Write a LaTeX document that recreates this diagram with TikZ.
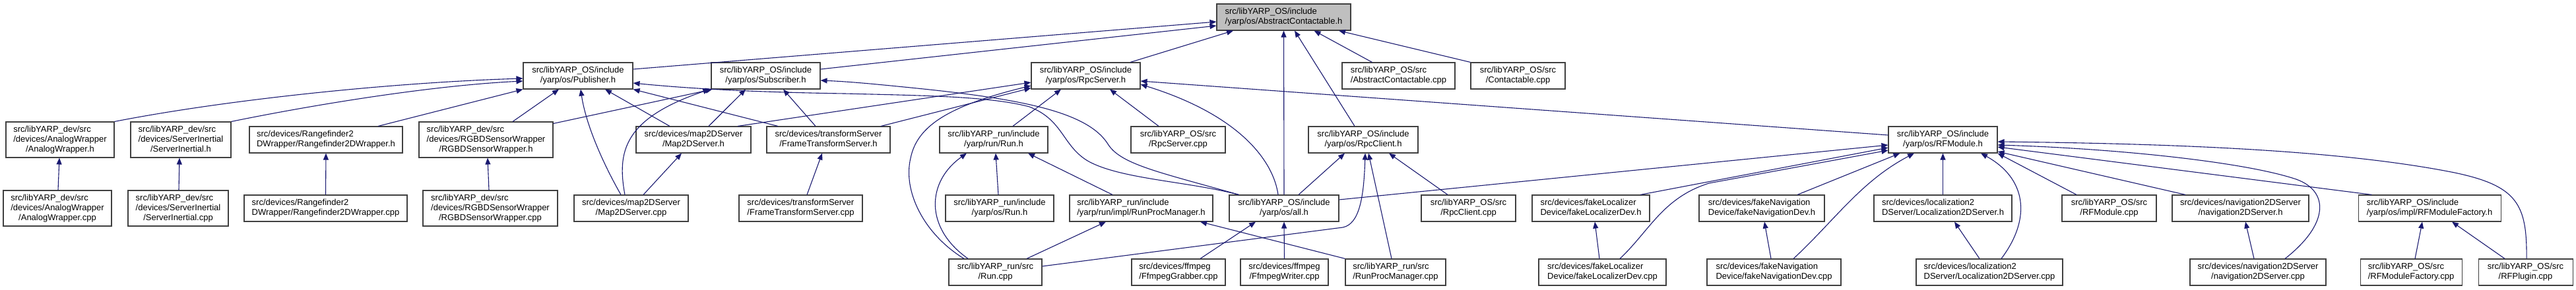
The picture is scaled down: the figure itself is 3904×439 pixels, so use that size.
\documentclass[tikz,border=0pt]{standalone}
\usepackage{fontspec}
\setmainfont{Liberation Sans}
\usetikzlibrary{calc,arrows.meta}
\definecolor{edgeblue}{RGB}{25,25,112}
\definecolor{boxgray}{RGB}{191,191,191}
\definecolor{boxline}{RGB}{64,64,64}
\newcommand{\twol}[2]{\begin{tabular}{@{}l@{}}#1\\\multicolumn{1}{@{}c@{}}{#2}\end{tabular}}
\newcommand{\threel}[3]{\begin{tabular}{@{}l@{}}#1\\#2\\\multicolumn{1}{@{}c@{}}{#3}\end{tabular}}
\tikzset{
  box/.style={draw=boxline, line width=1.1pt, fill=white, inner sep=0pt, rectangle,
    font=\fontsize{13}{15}\selectfont, minimum height=40pt},
  tall/.style={minimum height=54pt},
  root/.style={fill=boxgray},
  edge/.style={draw=edgeblue, line width=1.1pt, -{Triangle[length=10pt,width=8pt]}}
}
\begin{document}
\begin{tikzpicture}[x=1pt,y=-1pt]
\useasboundingbox (0,0) rectangle (3904,439);
\fill[white] (0,0) rectangle (3904,439);
% row 1
\node[box,root,minimum width=203pt] (AC) at (1945.5,26) {\twol{src/libYARP\_OS/include}{/yarp/os/AbstractContactable.h}};
% row 2
\node[box,minimum width=166pt] (Pub) at (876,115) {\twol{src/libYARP\_OS/include}{/yarp/os/Publisher.h}};
\node[box,minimum width=165pt] (Sub) at (1160.5,115) {\twol{src/libYARP\_OS/include}{/yarp/os/Subscriber.h}};
\node[box,minimum width=165pt] (RpcS) at (1645.5,115) {\twol{src/libYARP\_OS/include}{/yarp/os/RpcServer.h}};
\node[box,minimum width=171pt] (ACcpp) at (2119.5,115) {\twol{src/libYARP\_OS/src}{/AbstractContactable.cpp}};
\node[box,minimum width=143pt] (Ccpp) at (2300.5,115) {\twol{src/libYARP\_OS/src}{/Contactable.cpp}};
% row 3
\node[box,tall,minimum width=164pt] (AWh) at (91,212) {\threel{src/libYARP\_dev/src}{/devices/AnalogWrapper}{/AnalogWrapper.h}};
\node[box,tall,minimum width=152pt] (SIh) at (274,212) {\threel{src/libYARP\_dev/src}{/devices/ServerInertial}{/ServerInertial.h}};
\node[box,minimum width=232pt] (RFh) at (494,212) {\twol{src/devices/Rangefinder2}{DWrapper/Rangefinder2DWrapper.h}};
\node[box,tall,minimum width=203pt] (RGBDh) at (736.5,212) {\threel{src/libYARP\_dev/src}{/devices/RGBDSensorWrapper}{/RGBDSensorWrapper.h}};
\node[box,minimum width=174pt] (M2h) at (1051,212) {\twol{src/devices/map2DServer}{/Map2DServer.h}};
\node[box,minimum width=187pt] (FTh) at (1255.5,212) {\twol{src/devices/transformServer}{/FrameTransformServer.h}};
\node[box,minimum width=164pt] (Runh) at (1506,212) {\twol{src/libYARP\_run/include}{/yarp/run/Run.h}};
\node[box,minimum width=143pt] (RpcScpp) at (1785.5,212) {\twol{src/libYARP\_OS/src}{/RpcServer.cpp}};
\node[box,minimum width=166pt] (RpcCh) at (2066,212) {\twol{src/libYARP\_OS/include}{/yarp/os/RpcClient.h}};
\node[box,minimum width=165pt] (RFMh) at (2944.5,212) {\twol{src/libYARP\_OS/include}{/yarp/os/RFModule.h}};
% row 4
\node[box,tall,minimum width=164pt] (AWcpp) at (87,316) {\threel{src/libYARP\_dev/src}{/devices/AnalogWrapper}{/AnalogWrapper.cpp}};
\node[box,tall,minimum width=152pt] (SIcpp) at (270,316) {\threel{src/libYARP\_dev/src}{/devices/ServerInertial}{/ServerInertial.cpp}};
\node[box,minimum width=247pt] (RFcpp) at (493.5,316) {\twol{src/devices/Rangefinder2}{DWrapper/Rangefinder2DWrapper.cpp}};
\node[box,tall,minimum width=204pt] (RGBDcpp) at (743,316) {\threel{src/libYARP\_dev/src}{/devices/RGBDSensorWrapper}{/RGBDSensorWrapper.cpp}};
\node[box,minimum width=173pt] (M2cpp) at (956.5,316) {\twol{src/devices/map2DServer}{/Map2DServer.cpp}};
\node[box,minimum width=187pt] (FTcpp) at (1213.5,316) {\twol{src/devices/transformServer}{/FrameTransformServer.cpp}};
\node[box,minimum width=164pt] (osRunh) at (1515,316) {\twol{src/libYARP\_run/include}{/yarp/os/Run.h}};
\node[box,minimum width=217pt] (RPMh) at (1729.5,316) {\twol{src/libYARP\_run/include}{/yarp/run/impl/RunProcManager.h}};
\node[box,minimum width=166pt] (allh) at (1946,316) {\twol{src/libYARP\_OS/include}{/yarp/os/all.h}};
\node[box,minimum width=143pt] (RpcCcpp) at (2225.5,316) {\twol{src/libYARP\_OS/src}{/RpcClient.cpp}};
\node[box,minimum width=178pt] (fLh) at (2411,316) {\twol{src/devices/fakeLocalizer}{Device/fakeLocalizerDev.h}};
\node[box,minimum width=190pt] (fNh) at (2670,316) {\twol{src/devices/fakeNavigation}{Device/fakeNavigationDev.h}};
\node[box,minimum width=209pt] (L2h) at (2944.5,316) {\twol{src/devices/localization2}{DServer/Localization2DServer.h}};
\node[box,minimum width=143pt] (RFMcpp) at (3196.5,316) {\twol{src/libYARP\_OS/src}{/RFModule.cpp}};
\node[box,minimum width=207pt] (N2h) at (3395.5,316) {\twol{src/devices/navigation2DServer}{/navigation2DServer.h}};
\node[box,minimum width=216pt] (RFMFh) at (3682,316) {\twol{src/libYARP\_OS/include}{/yarp/os/impl/RFModuleFactory.h}};
% row 5
\node[box,minimum width=141pt] (Runcpp) at (1508.5,413) {\twol{src/libYARP\_run/src}{/Run.cpp}};
\node[box,minimum width=142pt] (FGcpp) at (1786,413) {\twol{src/devices/ffmpeg}{/FfmpegGrabber.cpp}};
\node[box,minimum width=133pt] (FWcpp) at (1946.5,413) {\twol{src/devices/ffmpeg}{/FfmpegWriter.cpp}};
\node[box,minimum width=152pt] (RPMcpp) at (2115,413) {\twol{src/libYARP\_run/src}{/RunProcManager.cpp}};
\node[box,minimum width=193pt] (fLcpp) at (2428.5,413) {\twol{src/devices/fakeLocalizer}{Device/fakeLocalizerDev.cpp}};
\node[box,minimum width=203pt] (fNcpp) at (2688.5,413) {\twol{src/devices/fakeNavigation}{Device/fakeNavigationDev.cpp}};
\node[box,minimum width=222pt] (L2cpp) at (3015,413) {\twol{src/devices/localization2}{DServer/Localization2DServer.cpp}};
\node[box,minimum width=206pt] (N2cpp) at (3422,413) {\twol{src/devices/navigation2DServer}{/navigation2DServer.cpp}};
\node[box,minimum width=154pt] (RFMFcpp) at (3654,413) {\twol{src/libYARP\_OS/src}{/RFModuleFactory.cpp}};
\node[box,minimum width=143pt] (RFPcpp) at (3827.5,413) {\twol{src/libYARP\_OS/src}{/RFPlugin.cpp}};

% edges into AbstractContactable.h
\draw[edge] ($(Pub.east)+(0,-10)$) -- ($(AC.west)+(0,7)$);
\draw[edge] ($(Sub.east)+(0,-10)$) -- ($(AC.west)+(0,13)$);
\draw[edge] ($(RpcS.north)+(67.5,0)$) -- ($(AC.south)+(-76.5,0)$);
\draw[edge] (allh.north) -- (AC.south);
\draw[edge] ($(RpcCh.north)+(-13,0)$) -- ($(AC.south)+(16.5,0)$);
\draw[edge] ($(ACcpp.north)+(-40,0)$) -- ($(AC.south)+(46,0)$);
\draw[edge] (Ccpp.north west) -- ($(AC.south)+(83.5,0)$);
% edges into Publisher.h
\draw[edge] (AWh.north east) .. controls (350,150) and (600,125) .. ($(Pub.west)+(0,4)$);
\draw[edge] (SIh.north east) .. controls (470,160) and (650,130) .. ($(Pub.west)+(0,8)$);
\draw[edge] ($(RFh.north)+(79,0)$) -- (Pub.south west);
\draw[edge] ($(RGBDh.north)+(40.5,0)$) -- ($(Pub.south)+(-29,0)$);
\draw[edge] ($(M2cpp.north)+(-15.5,0)$) .. controls (915,250) and (888,190) .. ($(Pub.south)+(4,0)$);
\draw[edge] ($(M2h.north)+(-36,0)$) -- ($(Pub.south)+(41,0)$);
\draw[edge] ($(FTh.north)+(-76.5,0)$) -- (Pub.south east);
\draw[edge] ($(allh.north west)+(15,0)$) .. controls (1800,275) and (1700,272) .. (1650,245) .. controls (1610,222) and (1612,182) .. (1560,162) .. controls (1500,146) and (1400,145) .. (1280,142) .. controls (1150,140) and (1050,135) .. ($(Pub.east)+(0,11)$);
% edges into Subscriber.h
\draw[edge] ($(allh.north west)+(15,0)$) .. controls (1760,262) and (1700,250) .. (1680,220) .. controls (1650,170) and (1550,150) .. (1380,133) .. controls (1330,128) and (1290,124) .. ($(Sub.east)+(0,7)$);
\draw[edge] ($(RGBDh.north east)+(0,3)$) -- ($(Sub.south west)+(2,0)$);
\draw[edge] ($(M2cpp.north)+(-9.5,0)$) .. controls (935,230) and (945,180) .. ($(Sub.south west)+(-2,0)$);
\draw[edge] ($(M2h.north)+(23,0)$) -- ($(Sub.south)+(-30.5,0)$);
\draw[edge] ($(FTh.north)+(-19.5,0)$) -- ($(Sub.south)+(26.5,0)$);
% edges into RpcServer.h
\draw[edge] ($(M2h.north)+(67,0)$) -- ($(RpcS.west)+(0,10)$);
\draw[edge] ($(FTh.north)+(79.5,0)$) -- ($(RpcS.south west)+(0,-2)$);
\draw[edge] ($(Runcpp.north)+(-47.5,0)$) .. controls (1400,355) and (1368,290) .. (1380,240) .. controls (1390,190) and (1440,160) .. ($(RpcS.west)+(0,15)$);
\draw[edge] ($(Runh.north)+(29,0)$) -- ($(RpcS.south)+(-37.5,0)$);
\draw[edge] ($(RpcScpp.north)+(-29.5,0)$) -- ($(RpcS.south)+(36.5,0)$);
\draw[edge] ($(RFMh.west)+(0,-7)$) -- ($(RpcS.east)+(0,8)$);
\draw[edge] ($(allh.north)+(-9,0)$) .. controls (1930,245) and (1880,175) .. ($(RpcS.east)+(0,13)$);
% edges into yarp/run/Run.h
\draw[edge] ($(Runcpp.north)+(-41.5,0)$) .. controls (1400,345) and (1405,275) .. ($(Runh.south)+(-41,0)$);
\draw[edge] ($(osRunh.north)+(-2,0)$) -- ($(Runh.south)+(3,0)$);
\draw[edge] ($(RPMh.north)+(-43.5,0)$) -- ($(Runh.south)+(52,0)$);
% edges into RunProcManager.h
\draw[edge] ($(Runcpp.north)+(47.5,0)$) -- ($(RPMh.south)+(-53.5,0)$);
\draw[edge] (RPMcpp.north west) -- ($(RPMh.south)+(89.5,0)$);
% edges into all.h
\draw[edge] ($(FGcpp.north)+(33,0)$) -- ($(allh.south)+(-43,0)$);
\draw[edge] (FWcpp.north) -- (allh.south);
% edges into RpcClient.h
\draw[edge] ($(allh.north)+(22,0)$) -- ($(RpcCh.south)+(-28,0)$);
\draw[edge] ($(Runcpp.east)+(0,-9)$) -- (2035,345) .. controls (2060,340) and (2067,300) .. ($(RpcCh.south)+(3,0)$);
\draw[edge] ($(RPMcpp.north)+(-6,0)$) -- ($(RpcCh.south)+(8,0)$);
\draw[edge] ($(RpcCcpp.north)+(-31.5,0)$) -- ($(RpcCh.south)+(39,0)$);
% edges into RFModule.h
\draw[edge] ($(allh.east)+(0,-13)$) -- ($(RFMh.west)+(0,8)$);
\draw[edge] ($(fLh.north)+(75,0)$) -- ($(RFMh.west)+(0,12)$);
\draw[edge] ($(fLcpp.north)+(26.5,0)$) .. controls (2500,350) and (2520,300) .. (2590,278) -- ($(RFMh.west)+(0,16)$);
\draw[edge] ($(fNh.north)+(54,0)$) -- ($(RFMh.south west)+(18,0)$);
\draw[edge] ($(fNcpp.north)+(29.5,0)$) .. controls (2780,335) and (2820,275) .. ($(RFMh.south)+(-43.5,0)$);
\draw[edge] (L2h.north) -- (RFMh.south);
\draw[edge] ($(L2cpp.north)+(18,0)$) .. controls (3080,330) and (3070,270) .. ($(RFMh.south)+(57.5,0)$);
\draw[edge] ($(RFMcpp.north)+(-49.5,0)$) -- (RFMh.south east);
\draw[edge] ($(RFPcpp.north)+(1.5,0)$) .. controls (3830,310) and (3815,282) .. (3720,262) .. controls (3550,228) and (3300,218) .. ($(RFMh.east)+(0,3)$);
\draw[edge] ($(N2cpp.north)+(41,0)$) .. controls (3530,340) and (3530,290) .. (3480,272) .. controls (3400,245) and (3200,225) .. ($(RFMh.east)+(0,8)$);
\draw[edge] ($(RFMFh.north west)+(21,0)$) -- ($(RFMh.east)+(0,11)$);
\draw[edge] ($(N2h.north)+(-83.5,0)$) -- ($(RFMh.east)+(0,18)$);
% leaf edges
\draw[edge] ($(AWcpp.north)+(1,0)$) -- ($(AWh.south)+(-1,0)$);
\draw[edge] ($(SIcpp.north)+(1,0)$) -- ($(SIh.south)+(-2,0)$);
\draw[edge] (RFcpp.north) -- (RFh.south);
\draw[edge] ($(RGBDcpp.north)+(-2,0)$) -- ($(RGBDh.south)+(2.5,0)$);
\draw[edge] ($(M2cpp.north)+(18.5,0)$) -- ($(M2h.south)+(-18,0)$);
\draw[edge] ($(FTcpp.north)+(9.5,0)$) -- ($(FTh.south)+(-9.5,0)$);
\draw[edge] ($(fLcpp.north)+(-4.5,0)$) -- ($(fLh.south)+(6,0)$);
\draw[edge] ($(fNcpp.north)+(-4.5,0)$) -- ($(fNh.south)+(4,0)$);
\draw[edge] ($(L2cpp.north)+(-15,0)$) -- ($(L2h.south)+(17.5,0)$);
\draw[edge] ($(N2cpp.north)+(-6,0)$) -- ($(N2h.south)+(7.5,0)$);
\draw[edge] ($(RFMFcpp.north)+(6,0)$) -- ($(RFMFh.south)+(-11,0)$);
\draw[edge] ($(RFPcpp.north)+(-31.5,0)$) -- ($(RFMFh.south)+(34,0)$);
\end{tikzpicture}
\end{document}
